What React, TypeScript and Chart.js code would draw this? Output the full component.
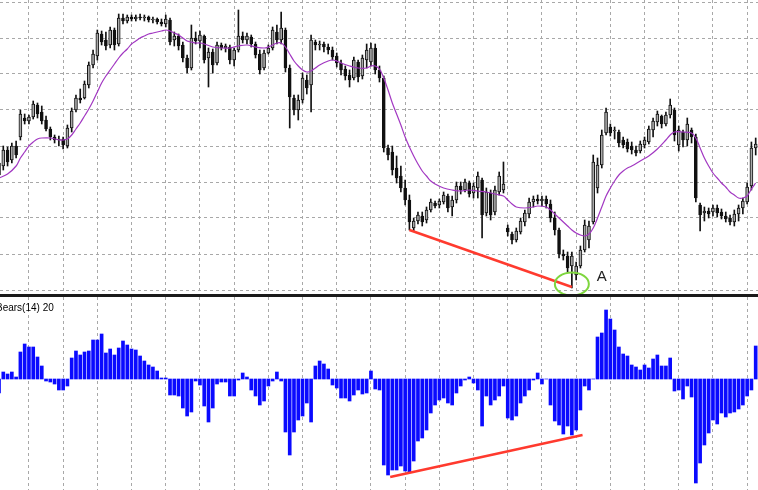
import React, { useEffect, useRef } from "react";
import { Chart, registerables } from "chart.js";

Chart.register(...registerables);

// ---------- price panel data (price points) ----------
const opens = [
  825, 834, 850, 840, 854, 863, 882, 879, 883, 895,
  888, 880, 871, 863, 860, 861, 854, 872, 890, 902,
  902, 915, 935, 944, 966, 960, 955, 970, 956, 982,
  979, 983, 981, 983, 982, 983, 980, 981, 978, 976,
  980, 960, 964, 955, 942, 932, 962, 959, 964, 942,
  948, 937, 955, 952, 953, 940, 950, 964, 960, 963,
  956, 946, 932, 947, 952, 968, 960, 970, 932, 902,
  890, 900, 920, 915, 958, 955, 956, 953, 950, 944,
  937, 931, 925, 922, 938, 924, 940, 938, 952, 930,
  922, 852, 848, 832, 824, 812, 800, 772, 779, 784,
  780, 790, 797, 795, 798, 804, 793, 800, 814, 810,
  817, 807, 812, 820, 787, 807, 788, 808, 810, 772,
  766, 760, 768, 778, 786, 798, 801, 799, 801, 796,
  782, 770, 746, 744, 734, 725, 734, 750, 760, 778,
  812, 835, 867, 873, 869, 868, 860, 858, 854, 850,
  849, 855, 858, 870, 878, 884, 876, 885, 890, 855,
  868, 860, 870, 863, 795, 787, 789, 788, 792, 788,
  784, 782, 778, 786, 792, 798, 814, 852,
];
const highs = [
  842, 854, 853, 857, 859, 890, 886, 885, 899, 897,
  894, 884, 873, 865, 864, 863, 875, 892, 905, 911,
  919, 938, 950, 970, 969, 968, 973, 972, 986, 986,
  985, 985, 985, 986, 985, 984, 983, 982, 981, 985,
  982, 968, 966, 958, 945, 975, 968, 969, 965, 952,
  951, 958, 957, 956, 955, 952, 990, 968, 967, 965,
  958, 950, 950, 955, 973, 975, 988, 972, 935, 905,
  905, 927, 925, 965, 960, 959, 958, 956, 953, 947,
  940, 934, 930, 943, 940, 945, 956, 957, 956, 934,
  924, 855, 854, 844, 834, 820, 805, 782, 788, 788,
  793, 801, 799, 801, 808, 806, 804, 818, 818, 821,
  819, 817, 828, 822, 812, 810, 814, 828, 838, 775,
  768, 772, 782, 790, 802, 804, 805, 804, 804, 800,
  788, 772, 750, 748, 748, 738, 754, 780, 779, 845,
  842, 870, 892, 876, 873, 870, 863, 861, 858, 854,
  859, 863, 874, 882, 889, 885, 888, 901, 892, 874,
  870, 882, 872, 866, 797, 793, 792, 795, 795, 791,
  788, 785, 790, 795, 802, 817, 858, 862,
];
const lows = [
  817, 830, 834, 837, 842, 860, 876, 876, 881, 882,
  876, 869, 860, 857, 854, 851, 852, 868, 888, 897,
  901, 912, 932, 940, 955, 950, 952, 950, 954, 976,
  977, 979, 979, 980, 979, 978, 977, 976, 974, 973,
  955, 954, 950, 938, 927, 930, 956, 952, 937, 913,
  927, 935, 950, 948, 936, 934, 948, 957, 956, 953,
  942, 926, 930, 946, 950, 956, 956, 928, 872, 885,
  880, 897, 906, 888, 950, 950, 948, 946, 940, 933,
  925, 920, 913, 920, 918, 921, 932, 934, 926, 918,
  848, 840, 825, 817, 808, 795, 770, 769, 776, 774,
  777, 788, 792, 792, 796, 788, 784, 797, 806, 808,
  803, 802, 802, 762, 784, 780, 785, 805, 807, 764,
  756, 758, 766, 774, 782, 793, 796, 794, 792, 778,
  765, 742, 740, 728, 712, 720, 732, 748, 752, 776,
  807, 832, 865, 864, 861, 853, 852, 848, 846, 844,
  847, 852, 856, 863, 874, 872, 874, 882, 859, 849,
  853, 854, 857, 798, 769, 779, 782, 784, 783, 781,
  778, 775, 774, 779, 786, 796, 810, 845,
];
const closes = [
  837, 850, 838, 854, 845, 886, 879, 883, 896, 886,
  879, 871, 863, 860, 861, 855, 872, 889, 902, 900,
  916, 935, 946, 967, 958, 954, 970, 955, 982, 979,
  983, 981, 983, 982, 983, 980, 981, 978, 976, 981,
  958, 964, 954, 942, 932, 962, 959, 965, 940, 948,
  935, 955, 952, 954, 940, 950, 964, 960, 964, 956,
  945, 930, 947, 952, 970, 960, 972, 932, 903, 890,
  900, 922, 912, 960, 955, 956, 953, 950, 943, 937,
  930, 924, 920, 940, 923, 942, 950, 952, 930, 922,
  852, 845, 830, 822, 812, 800, 778, 779, 785, 778,
  790, 798, 794, 799, 805, 792, 800, 814, 810, 818,
  806, 814, 824, 785, 808, 785, 810, 824, 816, 768,
  760, 769, 779, 787, 798, 801, 799, 801, 796, 782,
  770, 746, 744, 732, 744, 734, 750, 775, 774, 838,
  835, 865, 888, 867, 870, 857, 855, 851, 850, 847,
  856, 860, 871, 879, 886, 876, 885, 895, 865, 870,
  860, 876, 863, 802, 785, 789, 786, 792, 787, 784,
  781, 778, 786, 792, 799, 813, 852, 856,
];

// moving average readings: [bar, value]
const maReadings: [number, number][] = [
  [0, 822], [2, 826], [4, 834], [5, 842], [6, 848], [7, 854], [8, 858], [9, 861], [10, 862],
  [12, 862], [14, 860], [15, 860], [16, 861], [17, 865], [18, 871], [19, 877], [20, 884],
  [21, 891], [22, 899], [23, 908], [24, 917], [25, 924], [26, 930], [27, 936], [28, 942],
  [29, 947], [30, 951], [31, 956], [32, 959], [33, 962], [34, 964], [35, 966], [36, 967],
  [37, 968], [38, 969], [39, 970], [40, 969], [41, 967], [42, 965], [43, 962], [44, 959],
  [45, 958], [46, 957], [47, 957], [48, 956], [50, 953], [52, 952], [54, 952], [56, 954],
  [58, 955], [60, 953], [62, 952], [63, 953], [64, 955], [65, 957], [66, 957], [67, 953],
  [68, 946], [69, 939], [70, 934], [71, 930], [72, 928], [73, 929], [74, 932], [75, 935],
  [77, 939], [78, 940], [79, 939], [80, 937], [82, 934], [84, 932], [86, 932], [87, 934],
  [88, 934], [89, 931], [90, 922], [91, 910], [92, 897], [93, 886], [94, 875], [95, 863],
  [96, 853], [97, 844], [98, 836], [99, 829], [100, 824], [101, 819], [102, 816], [104, 812],
  [106, 810], [108, 809], [110, 810], [112, 809], [114, 808], [116, 806], [118, 804],
  [119, 800], [120, 796], [121, 793], [123, 792], [125, 793], [126, 794], [128, 793],
  [129, 790], [130, 786], [131, 782], [132, 778], [133, 774], [134, 770], [135, 767],
  [136, 765], [137, 764], [138, 766], [139, 772], [140, 782], [141, 793], [142, 804],
  [143, 812], [144, 819], [145, 825], [146, 829], [147, 832], [148, 834], [150, 839],
  [152, 844], [154, 851], [156, 860], [157, 865], [158, 868], [160, 868], [162, 867],
  [163, 862], [164, 852], [165, 842], [166, 834], [167, 827], [168, 822], [169, 817],
  [170, 813], [171, 808], [172, 805], [173, 802], [174, 802], [175, 804], [176, 811],
  [177, 817],
];

// price divergence line (bar, price)
const priceDivBars = [96, 134];
const priceDivValues = [770, 713];
// marked low "A"
const markBar = 134;
const markPrice = 716;
const markLabel = "A";
const markLabelBar = 141;
const markLabelPrice = 723;

// ---------- Bears Power panel ----------
const indicatorTitle = "Bears(14) 20";
const bears = [
  -14, 7, 5, 7, 2, 27, 35, 32, 32, 22,
  13, -2, -3, -5, -11, -11, -7, 21, 28, 24,
  27, 28, 39, 39, 45, 26, 30, 24, 31, 38,
  34, 30, 29, 23, 18, 14, 12, 8, 1, 1,
  -16, -16, -17, -29, -37, -33, -2, -6, -27, -43,
  -29, -5, -3, -3, -17, -17, -1, 6, 2, -11,
  -17, -26, -22, -7, -2, 7, -2, -53, -76, -53,
  -41, -37, -24, -43, 13, 18, 15, 10, -6, -9,
  -19, -19, -22, -16, -11, -15, -14, 8, -10, -11,
  -86, -96, -91, -91, -87, -92, -93, -82, -62, -59,
  -51, -34, -26, -21, -19, -24, -26, -14, -7, -1,
  2, -4, -11, -47, -17, -26, -21, -17, -7, -39,
  -41, -37, -24, -17, -11, -1, 6, -5, 0, -26,
  -42, -46, -55, -47, -56, -51, -31, -7, -11, 0,
  42, 46, 69, 60, 49, 32, 25, 23, 14, 12,
  9, 14, 11, 20, 24, 13, 13, 21, -12, -11,
  -20, -7, -18, -104, -84, -66, -54, -41, -45, -34,
  -38, -34, -33, -30, -26, -17, -11, 33,
];
const bearsDivBars = [91.5, 136.5];
const bearsDivValues = [-98, -56];

// ---------- axes ----------
const viewStart = 0.23;
const viewEnd = 177.54;
const gridBars = [7, 15, 23, 31, 39, 47, 55, 63, 71, 79, 87, 95, 103, 111, 119, 127, 135, 143, 151, 159, 167, 175];
const priceMin = 706;
const priceMax = 1000;
const priceGrid = [998, 962, 926, 890, 854, 818, 782, 746, 710];
const bearsMin = -111;
const bearsMax = 82;

const W = 758;
const TOP_H = 294;
const SEP_H = 3;
const BOT_H = 193;

const GRID_COLOR = "#a8a8a8";
const GRID_DASH = [3, 3];

function xScale() {
  return {
    type: "linear" as const,
    min: viewStart,
    max: viewEnd,
    offset: false,
    grid: { offset: false, color: GRID_COLOR, drawTicks: false, lineWidth: 1 },
    border: { display: false, dash: GRID_DASH },
    ticks: { display: false },
    afterBuildTicks: (s: any) => {
      s.ticks = gridBars.map((v) => ({ value: v }));
    },
  };
}

const markPlugin = {
  id: "markPlugin",
  afterDatasetsDraw(chart: any) {
    const { ctx, scales } = chart;
    const x = scales.x;
    const y = scales.y;
    ctx.save();
    ctx.strokeStyle = "#7ed63e";
    ctx.lineWidth = 2;
    ctx.beginPath();
    ctx.ellipse(x.getPixelForValue(markBar), y.getPixelForValue(markPrice), 17, 11.5, 0, 0, Math.PI * 2);
    ctx.stroke();
    ctx.fillStyle = "#222";
    ctx.font = '15px "Liberation Sans", Arial, sans-serif';
    ctx.textAlign = "center";
    ctx.textBaseline = "middle";
    ctx.fillText(markLabel, x.getPixelForValue(markLabelBar), y.getPixelForValue(markLabelPrice));
    ctx.restore();
  },
};

const titlePlugin = {
  id: "titlePlugin",
  afterDatasetsDraw(chart: any) {
    const { ctx } = chart;
    ctx.save();
    ctx.fillStyle = "#000";
    ctx.font = '10px "Liberation Sans", Arial, sans-serif';
    ctx.textAlign = "left";
    ctx.textBaseline = "alphabetic";
    ctx.fillText(indicatorTitle, -4, 14);
    ctx.restore();
  },
};

export default function App() {
  const topRef = useRef<HTMLCanvasElement>(null);
  const botRef = useRef<HTMLCanvasElement>(null);

  useEffect(() => {
    const bars = opens.map((_, i) => i);
    const bodies = bars.map((i) => ({ x: i, y: [opens[i], closes[i]] }));
    const wicks = bars.map((i) => ({ x: i, y: [lows[i], highs[i]] }));
    const bodyColors = bars.map((i) => (closes[i] > opens[i] ? "#a9a9a9" : "#111111"));
    const ma = maReadings.map(([b, v]) => ({ x: b, y: v }));
    const priceDiv = priceDivBars.map((b, i) => ({ x: b, y: priceDivValues[i] }));

    const top = new Chart(topRef.current as HTMLCanvasElement, {
      type: "bar",
      data: {
        datasets: [
          {
            type: "line",
            data: ma,
            borderColor: "#a238c2",
            borderWidth: 1.2,
            pointRadius: 0,
            tension: 0.35,
            order: 0,
          } as any,
          {
            type: "line",
            data: priceDiv,
            borderColor: "#ff3a2e",
            borderWidth: 2.5,
            pointRadius: 0,
            order: 0,
          } as any,
          {
            type: "bar",
            data: wicks,
            backgroundColor: "#111111",
            barThickness: 1,
            grouped: false,
            order: 2,
          } as any,
          {
            type: "bar",
            data: bodies,
            backgroundColor: bodyColors,
            borderColor: "#111111",
            borderWidth: 1,
            borderSkipped: false,
            barThickness: 3,
            grouped: false,
            order: 1,
          } as any,
        ],
      },
      options: {
        animation: false,
        responsive: false,
        events: [],
        layout: { padding: 0 },
        plugins: { legend: { display: false }, tooltip: { enabled: false } },
        scales: {
          x: xScale() as any,
          y: {
            type: "linear",
            min: priceMin,
            max: priceMax,
            grid: { color: GRID_COLOR, drawTicks: false, lineWidth: 1 },
            border: { display: false, dash: GRID_DASH },
            ticks: { display: false },
            afterBuildTicks: (s: any) => {
              s.ticks = priceGrid.map((v) => ({ value: v }));
            },
          } as any,
        },
      },
      plugins: [markPlugin],
    });

    const bearsBars = bars.map((i) => ({ x: i, y: bears[i] }));
    const bearsDiv = bearsDivBars.map((b, i) => ({ x: b, y: bearsDivValues[i] }));

    const bottom = new Chart(botRef.current as HTMLCanvasElement, {
      type: "bar",
      data: {
        datasets: [
          {
            type: "line",
            data: bearsDiv,
            borderColor: "#ff3a2e",
            borderWidth: 2.5,
            pointRadius: 0,
            order: 0,
          } as any,
          {
            type: "bar",
            data: bearsBars,
            backgroundColor: "#0a0aff",
            barThickness: 3,
            grouped: false,
            order: 1,
          } as any,
        ],
      },
      options: {
        animation: false,
        responsive: false,
        events: [],
        layout: { padding: 0 },
        plugins: { legend: { display: false }, tooltip: { enabled: false } },
        scales: {
          x: xScale() as any,
          y: {
            type: "linear",
            min: bearsMin,
            max: bearsMax,
            grid: { display: false, drawTicks: false },
            border: { display: false },
            ticks: { display: false },
          } as any,
        },
      },
      plugins: [titlePlugin],
    });

    return () => {
      top.destroy();
      bottom.destroy();
    };
  }, []);

  return (
    <div
      style={{
        position: "absolute",
        left: 0,
        top: 0,
        width: W,
        height: TOP_H + SEP_H + BOT_H,
        background: "#ffffff",
        overflow: "hidden",
      }}
    >
      <canvas ref={topRef} width={W} height={TOP_H} style={{ position: "absolute", left: 0, top: 0, display: "block" }} />
      <div style={{ position: "absolute", left: 0, top: TOP_H, width: W, height: SEP_H, background: "#1a1a1a" }} />
      <canvas
        ref={botRef}
        width={W}
        height={BOT_H}
        style={{ position: "absolute", left: 0, top: TOP_H + SEP_H, display: "block" }}
      />
    </div>
  );
}
